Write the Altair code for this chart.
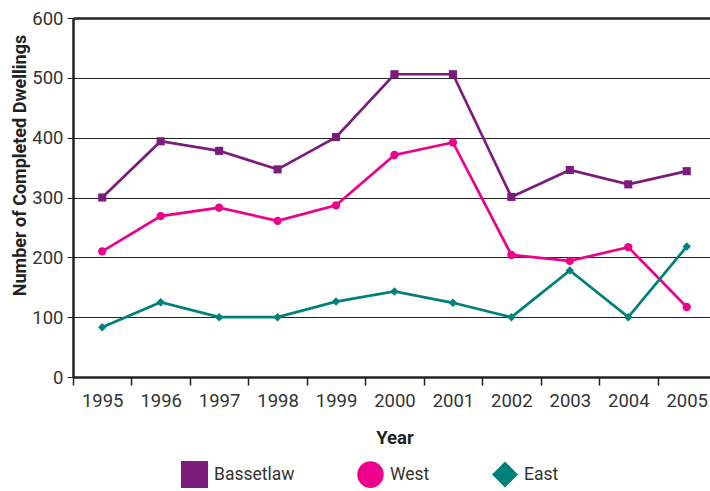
import altair as alt
import pandas as pd

# Completed dwellings per year, by area
years = [1995, 1996, 1997, 1998, 1999, 2000, 2001, 2002, 2003, 2004, 2005]
bassetlaw = [300, 394, 378, 347, 401, 506, 506, 301, 346, 322, 344]
west = [210, 269, 283, 261, 287, 371, 392, 204, 194, 217, 117]
east = [83, 125, 100, 100, 126, 143, 124, 100, 178, 100, 218]

series_names = ["Bassetlaw", "West", "East"]
series_colors = ["#7B1C7D", "#EC008C", "#00807A"]
series_shapes = ["square", "circle", "diamond"]

rows = []
for name, vals in zip(series_names, [bassetlaw, west, east]):
    for yr, v in zip(years, vals):
        rows.append({"Series": name, "Year": yr, "Dwellings": v})
df = pd.DataFrame(rows)

FONT = "Roboto"
BAND = 58.45
PLOT_W = 637
PLOT_H = 359

# year boundaries carry the tick marks; labels sit mid-band
boundaries = [yr - 0.5 for yr in years]

x_enc = alt.X(
    "Year:Q",
    scale=alt.Scale(domain=[years[0] - 0.5, years[0] - 0.5 + PLOT_W / BAND], nice=False, zero=False),
    axis=alt.Axis(
        values=boundaries,
        labelExpr="format(datum.value + 0.5, 'd')",
        labelOffset=BAND / 2,
        labelFlush=False,
        labelOverlap=False,
        labelFont=FONT,
        labelFontSize=18.5,
        labelColor="#333333",
        labelPadding=6,
        tickSize=8,
        tickWidth=1.5,
        tickColor="#222222",
        domainColor="#222222",
        domainWidth=2.5,
        grid=False,
        title="Year",
        titleFont=FONT,
        titleFontSize=18.5,
        titleFontWeight="bold",
        titleColor="#222222",
        titleBaseline="alphabetic",
        titleX=321.5,
        titleY=66,
    ),
)

y_enc = alt.Y(
    "Dwellings:Q",
    scale=alt.Scale(domain=[0, 600], nice=False),
    axis=alt.Axis(
        values=[0, 100, 200, 300, 400, 500, 600],
        labelFont=FONT,
        labelFontSize=18.5,
        labelColor="#333333",
        labelPadding=4,
        tickSize=6,
        tickWidth=1,
        tickColor="#222222",
        domainColor="#222222",
        domainWidth=2.5,
        grid=True,
        gridColor="#222222",
        gridWidth={"condition": {"test": "datum.value === 600", "value": 2.5}, "value": 1},
        gridOpacity=1,
        title="Number of Completed Dwellings",
        titleFont=FONT,
        titleFontSize=18,
        titleFontWeight="bold",
        titleColor="#222222",
        titleBaseline="alphabetic",
        titleAngle=270,
        titleX=-48,
        titleY=147,
    ),
)


def color_enc(legend):
    return alt.Color(
        "Series:N",
        scale=alt.Scale(domain=series_names, range=series_colors),
        sort=series_names,
        legend=legend,
    )


def shape_enc(legend):
    return alt.Shape(
        "Series:N",
        scale=alt.Scale(domain=series_names, range=series_shapes),
        sort=series_names,
        legend=legend,
    )


def size_enc(sizes, legend):
    return alt.Size(
        "Series:N",
        scale=alt.Scale(domain=series_names, range=sizes),
        sort=series_names,
        legend=legend,
    )


base = alt.Chart(df)

lines = base.mark_line(strokeWidth=2.7).encode(
    x=x_enc, y=y_enc, color=color_enc(None), detail="Series:N"
)

markers = base.mark_point(filled=True, opacity=1, strokeWidth=0).encode(
    x=x_enc,
    y=y_enc,
    color=color_enc(None),
    shape=shape_enc(None),
    size=size_enc([66, 72, 115], None),
)

legend_props = alt.Legend(
    title=None,
    orient="none",
    direction="horizontal",
    legendX=108,
    legendY=443,
    padding=0,
    columnPadding=62,
    labelOffset=6,
    labelFont=FONT,
    labelFontSize=17.5,
    labelColor="#333333",
    symbolOpacity=1,
    symbolStrokeWidth=0,
)

# invisible layer that only supplies the large legend symbols
legend_layer = base.mark_point(filled=True, opacity=0).encode(
    x=x_enc,
    y=y_enc,
    color=color_enc(legend_props),
    shape=shape_enc(legend_props),
    size=size_enc([729, 676, 1369], legend_props),
)

chart = (
    alt.layer(lines, markers, legend_layer)
    .resolve_scale(color="independent", shape="independent", size="independent")
    .properties(
        width=PLOT_W,
        height=PLOT_H,
        autosize=alt.AutoSizeParams(type="none"),
        padding={"left": 73, "top": 18, "right": 0, "bottom": 114},
        background="white",
    )
    .configure_view(stroke=None)
)

chart.save("out.html", embed_options={"renderer": "svg", "actions": False})
